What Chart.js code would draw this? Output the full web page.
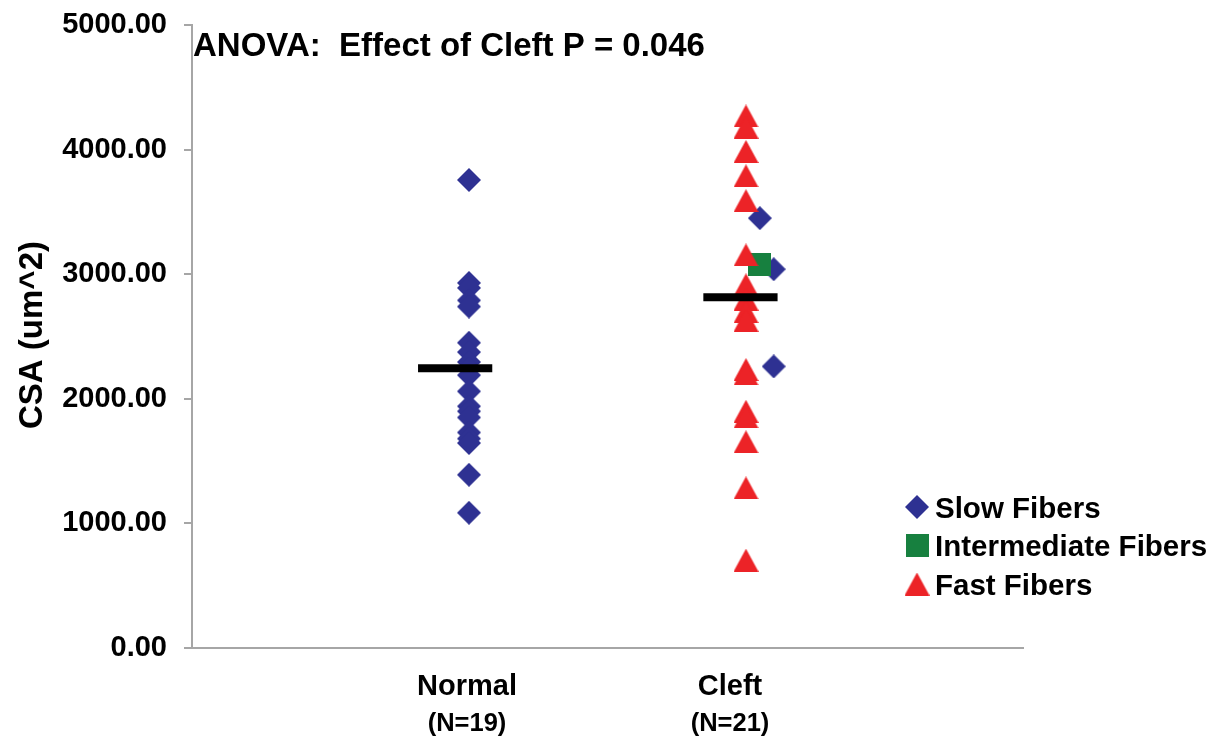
<!DOCTYPE html>
<html><head><meta charset="utf-8">
<script src="https://cdn.jsdelivr.net/npm/chart.js@4.4.0/dist/chart.umd.min.js"></script>
<style>html,body{margin:0;padding:0;background:#fff}#wrap{width:1225px;height:743px;position:relative}</style>
</head><body><div id="wrap"><canvas id="c"></canvas></div>
<script>
// ---- data ----
const categories = ['Normal', 'Cleft'];
const groupCounts = ['(N=19)', '(N=21)'];
const seriesNames = ['Slow Fibers', 'Intermediate Fibers', 'Fast Fibers'];
const yTicks = [0, 1000, 2000, 3000, 4000, 5000];
const normalSlow = [3756, 2930, 2890, 2790, 2740, 2450, 2375, 2295, 2240, 2190, 2060, 1940, 1900, 1850, 1730, 1680, 1645, 1390, 1085];
const cleftSlow = [3450, 3040, 2260];
const cleftSlowX = [2.05, 2.10, 2.10];
const cleftIntermediate = [3075];
const cleftIntermediateX = [2.05];
const cleftFast = [4270, 4180, 3985, 3790, 3590, 3155, 2915, 2800, 2700, 2630, 2235, 2200, 1900, 1855, 1655, 1285, 705];
const groupMeans = [2245, 2815];
const meanX = [0.95, 1.98];
const titleText = 'ANOVA:  Effect of Cleft P = 0.046';
const yAxisTitle = 'CSA (um^2)';

// ---- styles ----
const FONT = "'Liberation Sans', Arial, Helvetica, sans-serif";
const colSlow = '#2e3192', colInter = '#17803f', colFast = '#ec2327', colAxis = '#a6a6a6';
const meanHalfWidth = 0.134;

function marker(kind, w, h, color) {
  const c = document.createElement('canvas'); c.width = w; c.height = h;
  const g = c.getContext('2d'); g.fillStyle = color; g.beginPath();
  if (kind === 'diamond') { g.moveTo(w/2,0); g.lineTo(w,h/2); g.lineTo(w/2,h); g.lineTo(0,h/2); }
  else if (kind === 'square') { g.rect(0,0,w,h); }
  else { g.moveTo(w/2,0); g.lineTo(w,h); g.lineTo(0,h); }
  g.closePath(); g.fill(); return c;
}
const mDiamond = marker('diamond', 24, 24, colSlow);
const mSquare = marker('square', 23, 23, colInter);
const mTriangle = marker('triangle', 25, 23, colFast);
const markers = [mDiamond, mSquare, mTriangle];

const slowData = normalSlow.map(v => ({x: 1, y: v})).concat(cleftSlow.map((v, i) => ({x: cleftSlowX[i], y: v})));
const interData = cleftIntermediate.map((v, i) => ({x: cleftIntermediateX[i], y: v}));
const fastData = cleftFast.map(v => ({x: 2, y: v}));
const meanSets = groupMeans.map((v, i) => ({
  type: 'line', label: 'Mean ' + categories[i], showLine: true,
  data: [{x: meanX[i] - meanHalfWidth, y: v}, {x: meanX[i] + meanHalfWidth, y: v}],
  borderColor: '#000', borderWidth: 8, borderCapStyle: 'butt', pointRadius: 0, order: 0
}));

const textPlugin = {
  id: 'texts',
  afterDraw(chart) {
    const ctx = chart.ctx, xs = chart.scales.x;
    ctx.save();
    ctx.fillStyle = '#000';
    // title
    ctx.font = 'bold 33px ' + FONT; ctx.textAlign = 'left'; ctx.textBaseline = 'alphabetic';
    ctx.fillText(titleText, 193, 44 + 0.358 * 33);
    // y axis title
    ctx.save(); ctx.translate(30, 335); ctx.rotate(-Math.PI / 2);
    ctx.font = 'bold 33px ' + FONT; ctx.textAlign = 'center';
    ctx.fillText(yAxisTitle, 0, 0.358 * 33);
    ctx.restore();
    // category labels
    const nudge = [-2, -16];
    ctx.textAlign = 'center';
    categories.forEach((c, i) => {
      const px = xs.getPixelForValue(i + 1) + nudge[i];
      ctx.font = 'bold 29px ' + FONT; ctx.fillText(c, px, 685 + 0.358 * 29);
      ctx.font = 'bold 25.5px ' + FONT; ctx.fillText(groupCounts[i], px, 722 + 0.358 * 25.5);
    });
    // legend
    ctx.textAlign = 'left'; ctx.font = 'bold 29.5px ' + FONT;
    seriesNames.forEach((n, i) => {
      const cy = 507 + 38.5 * i;
      const m = markers[i];
      ctx.drawImage(m, 917 - m.width / 2, cy - m.height / 2);
      ctx.fillText(n, 935, cy + 0.358 * 29.5);
    });
    ctx.restore();
  }
};

new Chart(document.getElementById('c'), {
  type: 'scatter',
  data: {
    datasets: meanSets.concat([
      {label: seriesNames[2], data: fastData, pointStyle: mTriangle, pointRadius: 12, order: 1},
      {label: seriesNames[1], data: interData, pointStyle: mSquare, pointRadius: 12, order: 2},
      {label: seriesNames[0], data: slowData, pointStyle: mDiamond, pointRadius: 12, order: 3}
    ])
  },
  options: {
    responsive: true, maintainAspectRatio: false, animation: false, events: [],
    layout: {padding: {top: 25, right: 202, bottom: 0, left: 0}},
    plugins: {legend: {display: false}, tooltip: {enabled: false}, title: {display: false}},
    scales: {
      x: {
        type: 'linear', min: 0, max: 3,
        ticks: {display: false}, grid: {display: false},
        border: {display: true, color: colAxis, width: 2},
        afterFit: s => { s.height = 95; s.paddingLeft = 0; s.paddingRight = 0; }
      },
      y: {
        min: 0, max: 5000,
        afterBuildTicks: s => { s.ticks = yTicks.map(v => ({value: v})); },
        ticks: {callback: v => Number(v).toFixed(2), color: '#000', font: {family: FONT, size: 29, weight: 'bold'}, padding: 17},
        grid: {drawOnChartArea: false, tickLength: 8, color: colAxis, lineWidth: 2},
        border: {display: true, color: colAxis, width: 2},
        afterFit: s => { s.width = 192; s.paddingTop = 0; s.paddingBottom = 0; }
      }
    }
  },
  plugins: [textPlugin]
});
</script></body></html>
